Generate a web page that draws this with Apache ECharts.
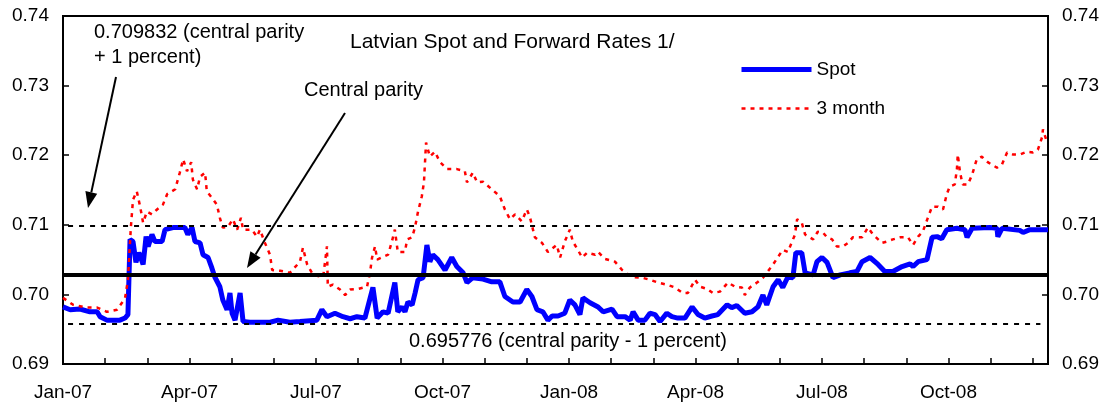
<!DOCTYPE html>
<html>
<head>
<meta charset="utf-8">
<script src="https://cdn.jsdelivr.net/npm/echarts@6/dist/echarts.min.js"></script>
<style>
  html, body { margin: 0; padding: 0; background: #fff; }
  #chart { width: 1108px; height: 409px; }
</style>
</head>
<body>
<div id="chart"></div>
<script>
// x = months since 1 Jan 2007
var monthLabels = ["Jan-07", "Apr-07", "Jul-07", "Oct-07", "Jan-08", "Apr-08", "Jul-08", "Oct-08"];
var yTicks = [0.69, 0.70, 0.71, 0.72, 0.73, 0.74];

var parityUpper = 0.709832;
var parityCentral = 0.702804;
var parityLower = 0.695776;

var spot = [
  [0,0.6982],[0.17,0.6978],[0.40,0.6979],[0.64,0.6975],[0.81,0.6975],[0.88,0.6968],[1.04,0.6963],[1.35,0.6963],
  [1.47,0.6966],[1.54,0.6971],[1.59,0.7079],[1.66,0.7076],[1.73,0.7046],[1.80,0.7060],[1.90,0.7043],[1.97,0.7083],
  [2.02,0.7069],[2.11,0.7086],[2.18,0.7076],[2.35,0.7076],[2.42,0.7093],[2.61,0.7096],[2.89,0.7096],[2.96,0.7086],
  [3.06,0.7096],[3.13,0.7076],[3.25,0.7074],[3.32,0.7057],[3.44,0.7053],[3.53,0.7038],[3.60,0.7025],[3.72,0.7011],
  [3.79,0.6992],[3.89,0.6978],[3.96,0.7002],[4.01,0.6973],[4.08,0.6963],[4.20,0.7002],[4.27,0.6961],[4.43,0.6960],
  [4.91,0.6960],[5.10,0.6963],[5.38,0.6960],[5.62,0.6961],[6.02,0.6963],[6.14,0.6978],[6.26,0.6968],[6.45,0.6973],
  [6.64,0.6968],[6.81,0.6965],[6.97,0.6968],[7.16,0.6966],[7.35,0.7010],[7.45,0.6966],[7.59,0.6975],[7.71,0.6973],
  [7.87,0.7017],[7.94,0.6975],[8.04,0.6982],[8.11,0.6975],[8.18,0.6989],[8.28,0.6985],[8.35,0.7002],[8.42,0.7021],
  [8.54,0.7024],[8.63,0.7071],[8.70,0.7047],[8.77,0.7057],[8.89,0.7050],[9.06,0.7035],[9.22,0.7053],[9.34,0.7040],
  [9.49,0.7031],[9.58,0.7017],[9.72,0.7024],[9.96,0.7022],[10.17,0.7018],[10.36,0.7018],[10.48,0.6997],[10.67,0.6989],
  [10.84,0.6989],[11.00,0.7007],[11.12,0.6997],[11.24,0.6978],[11.38,0.6975],[11.50,0.6963],[11.60,0.6969],[11.74,0.6969],
  [11.90,0.6973],[12.02,0.6992],[12.14,0.6985],[12.26,0.6971],[12.33,0.6995],[12.50,0.6988],[12.69,0.6982],[12.81,0.6975],
  [13.02,0.6979],[13.14,0.6968],[13.33,0.6968],[13.45,0.6963],[13.52,0.6975],[13.64,0.6963],[13.80,0.6963],[13.92,0.6973],
  [14.04,0.6971],[14.16,0.6961],[14.32,0.6973],[14.44,0.6968],[14.58,0.6966],[14.75,0.6966],[14.92,0.6982],[15.06,0.6971],
  [15.22,0.6966],[15.39,0.6969],[15.53,0.6971],[15.75,0.6985],[15.86,0.6981],[15.98,0.6984],[16.17,0.6973],[16.34,0.6975],
  [16.48,0.6982],[16.60,0.6999],[16.69,0.6985],[16.84,0.7011],[16.96,0.7021],[17.07,0.7010],[17.19,0.7025],[17.31,0.7024],
  [17.38,0.7060],[17.52,0.7060],[17.60,0.7031],[17.79,0.7028],[17.88,0.7047],[18.00,0.7053],[18.12,0.7046],[18.26,0.7024],
  [18.43,0.7028],[18.66,0.7031],[18.83,0.7033],[18.95,0.7047],[19.14,0.7053],[19.33,0.7043],[19.49,0.7033],[19.68,0.7033],
  [19.90,0.7040],[20.09,0.7044],[20.16,0.7040],[20.28,0.7047],[20.49,0.7050],[20.61,0.7082],[20.73,0.7083],[20.84,0.7080],
  [20.96,0.7093],[21.20,0.7095],[21.39,0.7093],[21.44,0.7082],[21.56,0.7095],[21.98,0.7096],[22.15,0.7095],[22.17,0.7083],
  [22.27,0.7095],[22.69,0.7092],[22.77,0.7089],[22.93,0.7093],[23.36,0.7093]
];

var threeMonth = [
  [0,0.6995],[0.24,0.6985],[0.57,0.6981],[0.81,0.6981],[1.04,0.6975],[1.28,0.6978],[1.47,0.6994],[1.54,0.7021],
  [1.61,0.7097],[1.66,0.7136],[1.75,0.7148],[1.83,0.7126],[1.90,0.7103],[1.99,0.7119],[2.11,0.7115],[2.23,0.7122],
  [2.37,0.7129],[2.47,0.7144],[2.66,0.7151],[2.77,0.7175],[2.85,0.7194],[2.94,0.7177],[3.04,0.7190],[3.08,0.7165],
  [3.18,0.7151],[3.25,0.7169],[3.37,0.7175],[3.41,0.7148],[3.53,0.7139],[3.65,0.7129],[3.72,0.7110],[3.79,0.7096],
  [3.91,0.7097],[4.03,0.7108],[4.13,0.7093],[4.22,0.7110],[4.27,0.7093],[4.48,0.7093],[4.60,0.7083],[4.67,0.7093],
  [4.79,0.7074],[4.91,0.7057],[4.96,0.7035],[5.15,0.7034],[5.38,0.7031],[5.62,0.7047],[5.69,0.7067],[5.79,0.7043],
  [5.93,0.7028],[6.17,0.7025],[6.26,0.7069],[6.28,0.7011],[6.40,0.7014],[6.57,0.7007],[6.69,0.6999],[6.81,0.7007],
  [7.00,0.7008],[7.21,0.7011],[7.28,0.7031],[7.33,0.7053],[7.40,0.7069],[7.45,0.7050],[7.56,0.7053],[7.71,0.7057],
  [7.80,0.7076],[7.87,0.7093],[7.94,0.7061],[8.11,0.7061],[8.16,0.7079],[8.28,0.7082],[8.35,0.7097],[8.42,0.7119],
  [8.51,0.7141],[8.56,0.7161],[8.61,0.7218],[8.70,0.7198],[8.82,0.7205],[8.94,0.7190],[9.11,0.7180],[9.34,0.7180],
  [9.53,0.7177],[9.58,0.7161],[9.72,0.7175],[9.82,0.7161],[9.96,0.7162],[10.17,0.7151],[10.36,0.7141],[10.48,0.7122],
  [10.60,0.7108],[10.72,0.7115],[10.88,0.7105],[11.00,0.7122],[11.07,0.7112],[11.19,0.7082],[11.36,0.7074],[11.50,0.7061],
  [11.71,0.7071],[11.79,0.7053],[11.90,0.7076],[12.02,0.7093],[12.09,0.7076],[12.21,0.7064],[12.31,0.7053],[12.43,0.7060],
  [12.62,0.7057],[12.69,0.7061],[12.85,0.7051],[13.09,0.7047],[13.26,0.7035],[13.49,0.7025],[13.73,0.7024],[13.92,0.7021],
  [14.11,0.7017],[14.32,0.7014],[14.51,0.7010],[14.70,0.7002],[14.82,0.7002],[14.99,0.7021],[15.11,0.7011],[15.27,0.7008],
  [15.41,0.7002],[15.58,0.7004],[15.77,0.7017],[15.94,0.7011],[16.10,0.7010],[16.17,0.6999],[16.29,0.7010],[16.46,0.7017],
  [16.60,0.7024],[16.84,0.7043],[16.96,0.7054],[17.07,0.7064],[17.19,0.7061],[17.36,0.7086],[17.41,0.7108],[17.52,0.7103],
  [17.60,0.7086],[17.79,0.7079],[17.90,0.7090],[18.02,0.7089],[18.12,0.7082],[18.24,0.7079],[18.35,0.7069],[18.50,0.7069],
  [18.62,0.7074],[18.73,0.7082],[18.95,0.7082],[19.09,0.7096],[19.21,0.7086],[19.42,0.7074],[19.54,0.7076],[19.68,0.7079],
  [19.85,0.7082],[20.04,0.7082],[20.16,0.7071],[20.28,0.7083],[20.39,0.7090],[20.51,0.7110],[20.61,0.7126],[20.75,0.7126],
  [20.87,0.7122],[20.96,0.7144],[21.03,0.7155],[21.15,0.7158],[21.20,0.7180],[21.22,0.7201],[21.27,0.7177],[21.32,0.7162],
  [21.34,0.7158],[21.46,0.7158],[21.56,0.7172],[21.67,0.7194],[21.79,0.7198],[21.93,0.7190],[22.15,0.7182],[22.27,0.7187],
  [22.39,0.7204],[22.53,0.7201],[22.69,0.7201],[22.86,0.7205],[23.00,0.7204],[23.12,0.7208],[23.22,0.7226],[23.24,0.7237],
  [23.33,0.7220]
];

var xMax = 23.36;
var font = "'Liberation Sans', Arial, sans-serif";

var chart = echarts.init(document.getElementById("chart"));

function yAxisCfg(pos) {
  return {
    type: "value",
    position: pos,
    min: yTicks[0],
    max: yTicks[yTicks.length - 1],
    interval: 0.01,
    axisLine: { show: true, lineStyle: { color: "#000", width: 2 } },
    axisTick: { show: true, inside: true, length: 6, lineStyle: { color: "#000", width: 1.5 } },
    splitLine: { show: false },
    axisLabel: {
      color: "#000", fontSize: 19, fontFamily: font, margin: 14,
      formatter: function (v) { return v.toFixed(2); }
    }
  };
}

var dotted = { color: "#000", width: 2, type: [5, 6] };
var noteStyle = { fontSize: 20, fontFamily: font, fill: "#000" };

chart.setOption({
  animation: false,
  title: {
    text: "Latvian Spot and Forward Rates 1/",
    left: 350, top: 32, padding: 0,
    textStyle: { color: "#000", fontSize: 21, fontWeight: "normal", fontFamily: font }
  },
  legend: {
    orient: "vertical",
    left: 739, top: 60, padding: 0,
    itemWidth: 70, itemHeight: 14, itemGap: 20,
    itemStyle: { color: "transparent", borderColor: "transparent", borderWidth: 0 },
    textStyle: { color: "#000", fontSize: 19, fontFamily: font },
    data: [
      { name: "Spot", lineStyle: { width: 5, color: "#0000ff" } },
      { name: "3 month", lineStyle: { width: 2.5, color: "#ff0000", type: [4, 5] } }
    ]
  },
  grid: {
    left: 63, right: 60, top: 16, bottom: 45,
    show: true, borderColor: "#000", borderWidth: 2
  },
  xAxis: {
    type: "value",
    min: 0, max: xMax, interval: 1,
    axisLine: { show: true, lineStyle: { color: "#000", width: 2 } },
    axisTick: { show: true, inside: true, length: 6, lineStyle: { color: "#000", width: 1.5 } },
    splitLine: { show: false },
    axisLabel: {
      color: "#000", fontSize: 19, fontFamily: font, margin: 19,
      formatter: function (v) {
        return (v % 3 === 0 && monthLabels[v / 3]) ? monthLabels[v / 3] : "";
      }
    }
  },
  yAxis: [yAxisCfg("left"), yAxisCfg("right")],
  graphic: [
    { type: "text", left: 94, top: 22, style: Object.assign({ text: "0.709832 (central parity" }, noteStyle) },
    { type: "text", left: 94, top: 47, style: Object.assign({ text: "+ 1 percent)" }, noteStyle) },
    { type: "text", left: 304, top: 80, style: Object.assign({ text: "Central parity" }, noteStyle) },
    { type: "text", left: 409, top: 331, style: Object.assign({ text: "0.695776 (central parity - 1 percent)" }, noteStyle) },
    { type: "line", shape: { x1: 116, y1: 77, x2: 91.3, y2: 192.4 }, style: { stroke: "#000", lineWidth: 2 } },
    { type: "polygon", shape: { points: [[88, 208], [97.2, 193.7], [85.4, 191.1]] }, style: { fill: "#000" } },
    { type: "line", shape: { x1: 345, y1: 113, x2: 255.5, y2: 254.5 }, style: { stroke: "#000", lineWidth: 2 } },
    { type: "polygon", shape: { points: [[247, 268], [260.6, 257.7], [250.4, 251.3]] }, style: { fill: "#000" } }
  ],
  series: [
    {
      name: "parity",
      type: "line",
      data: [],
      z: 1,
      markLine: {
        silent: true,
        symbol: "none",
        label: { show: false },
        data: [
          [{ coord: [0.12, parityUpper], lineStyle: dotted }, { coord: [23.18, parityUpper] }],
          [{ coord: [0.12, parityLower], lineStyle: dotted }, { coord: [23.18, parityLower] }],
          [{ coord: [0, parityCentral], lineStyle: { color: "#000", width: 4, type: "solid" } }, { coord: [xMax, parityCentral] }]
        ]
      }
    },
    {
      name: "Spot",
      type: "line",
      data: spot,
      symbol: "none",
      z: 3,
      lineStyle: { color: "#0000ff", width: 5 },
      itemStyle: { color: "#0000ff" }
    },
    {
      name: "3 month",
      type: "line",
      data: threeMonth,
      symbol: "none",
      z: 4,
      lineStyle: { color: "#ff0000", width: 2.5, type: [4, 5] },
      itemStyle: { color: "#ff0000" }
    }
  ]
});
</script>
</body>
</html>
